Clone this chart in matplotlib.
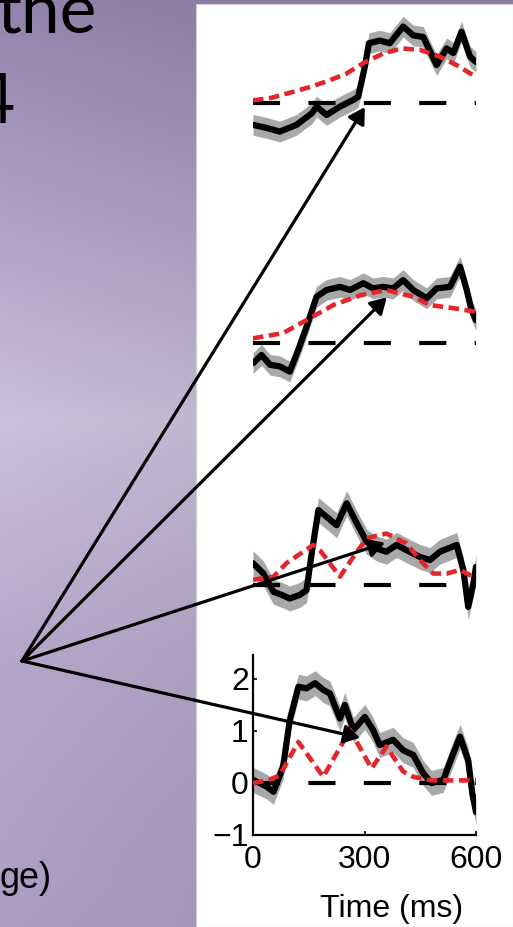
import numpy as np
import matplotlib
matplotlib.use('Agg')
import matplotlib.pyplot as plt
from matplotlib.patches import Rectangle

W, H = 513, 927

# panel 1 (top): neural response and model prediction
p1_t = [0, 37, 72, 117, 158, 171, 198, 234, 270, 283, 301, 312, 341, 368, 404, 431, 458, 494, 521, 539, 561, 584, 600]
p1_resp = [-0.42, -0.48, -0.55, -0.42, -0.2, -0.07, -0.23, -0.07, 0.06, 0.12, 0.7, 1.15, 1.2, 1.15, 1.47, 1.3, 1.27, 0.73, 1.05, 0.96, 1.37, 0.89, 0.79]
p1_model_t = [0, 50, 100, 150, 200, 250, 300, 350, 400, 450, 500, 550, 600]
p1_model = [0.05, 0.1, 0.2, 0.3, 0.42, 0.56, 0.78, 0.95, 1.05, 1.02, 0.9, 0.72, 0.5]

# panel 2
p2_t = [0, 23, 46, 72, 99, 122, 144, 171, 198, 234, 261, 297, 323, 350, 377, 404, 431, 467, 494, 530, 557, 575, 588, 600]
p2_resp = [-0.39, -0.23, -0.42, -0.45, -0.55, -0.13, 0.31, 0.89, 1.02, 1.08, 1.02, 1.15, 1.05, 1.08, 1.05, 1.21, 1.02, 0.86, 1.05, 1.08, 1.47, 1.02, 0.63, 0.44]
p2_model_t = [0, 81, 144, 216, 290, 359, 431, 476, 539, 600]
p2_model = [0.09, 0.19, 0.44, 0.73, 0.92, 1.02, 0.89, 0.73, 0.67, 0.6]

# panel 3
p3_t = [0, 28, 55, 77, 99, 126, 144, 158, 176, 198, 225, 252, 279, 306, 333, 359, 386, 413, 449, 476, 503, 548, 566, 579, 593, 600]
p3_resp = [0.42, 0.22, -0.13, -0.19, -0.26, -0.19, -0.1, 0.61, 1.44, 1.31, 1.15, 1.57, 1.19, 0.83, 0.7, 0.64, 0.77, 0.67, 0.54, 0.48, 0.64, 0.77, 0.29, -0.42, 0.03, 0.35]
p3_model_t = [0, 55, 90, 162, 180, 234, 270, 306, 359, 413, 449, 485, 521, 557, 600]
p3_model = [0.1, 0.16, 0.42, 0.77, 0.67, 0.16, 0.54, 0.9, 0.99, 0.8, 0.48, 0.22, 0.22, 0.29, 0.13]

# panel 4 (bottom, with axes)
p4_t = [0, 37, 55, 81, 99, 122, 144, 167, 189, 207, 234, 247, 270, 301, 323, 341, 377, 404, 431, 458, 480, 512, 539, 557, 579, 590, 600]
p4_resp = [0.06, -0.07, -0.17, 0.31, 1.21, 1.85, 1.82, 1.92, 1.79, 1.72, 1.24, 1.5, 1.02, 1.27, 1.02, 0.73, 0.83, 0.63, 0.54, 0.19, 0.0, 0.06, 0.57, 0.89, 0.44, -0.2, -0.56]
p4_model_t = [0, 40, 72, 122, 189, 261, 319, 359, 404, 431, 480, 540, 600]
p4_model = [0.0, 0.05, 0.15, 0.79, 0.12, 1.02, 0.28, 0.7, 0.22, 0.12, 0.05, 0.05, 0.05]

sem = [0.2, 0.2, 0.24, 0.24]

# points the arrows land on, (time, value) in each panel
arrow_tips = [(301, -0.08), (360, 0.88), (355, 0.81), (288, 0.87)]
arrow_origin = (22, 661)

panels = [
    (p1_t, p1_resp, p1_model_t, p1_model),
    (p2_t, p2_resp, p2_model_t, p2_model),
    (p3_t, p3_resp, p3_model_t, p3_model),
    (p4_t, p4_resp, p4_model_t, p4_model),
]


def px_axes(fig, x0, y_top, x1, y_bot, **kw):
    return fig.add_axes([x0 / W, 1 - y_bot / H, (x1 - x0) / W, (y_bot - y_top) / H], **kw)


fig = plt.figure(figsize=(W / 100, H / 100), dpi=100)

# slide background
ax_bg = fig.add_axes([0, 0, 1, 1])
ys = np.arange(H)
stops_y = [0, 250, 420, 650, 927]
stops_c = np.array([[147, 132, 173], [180, 166, 200], [203, 193, 220],
                    [182, 168, 202], [172, 157, 197]]) / 255.0
col = np.stack([np.interp(ys, stops_y, stops_c[:, i]) for i in range(3)], axis=1)
shade = np.interp(np.arange(W), [0, 196], [1.0, 0.95])
img = np.clip(col[:, None, :] * shade[None, :, None], 0, 1)
ax_bg.imshow(img, extent=(0, W, H, 0), aspect='auto')
ax_bg.add_patch(Rectangle((196, 4), W - 196, H - 4, facecolor='white',
                          edgecolor='#d0d0d0', lw=0.8))
ax_bg.set_xlim(0, W)
ax_bg.set_ylim(H, 0)
ax_bg.axis('off')

ax_bg.text(97, 32, 'the', fontsize=50, family='Lato', ha='right', va='baseline', color='k')
ax_bg.text(14, 123, '4', fontsize=50, family='Lato', ha='right', va='baseline', color='k')
ax_bg.text(52, 888, 'ge)', fontsize=26, family='Liberation Sans', ha='right', va='baseline', color='k')

# panel boxes: x 0..600 ms -> 253..476 px, 52 px per unit
x0, x1 = 253, 476
zeros = [103, 343, 585, 783]
ytops = [1.9, 2.0, 2.0, 2.46]
axes = []
for k, (t, resp, mt, model) in enumerate(panels):
    z = zeros[k]
    ax = px_axes(fig, x0, z - ytops[k] * 52, x1, z + 52)
    ax.set_facecolor('none')
    t = np.array(t)
    resp = np.array(resp)
    ax.fill_between(t, resp - sem[k], resp + sem[k], color='#a8a8a8', lw=0, zorder=1)
    ax.plot([0, 600], [0, 0], color='k', lw=3.0, linestyle=(0, (6.5, 6.8)), zorder=2)
    ax.plot(t, resp, color='k', lw=4.5, solid_joinstyle='round',
            solid_capstyle='round', zorder=3)
    ax.plot(mt, model, color='#e3262b', lw=3.3, linestyle=(0, (2.3, 1.2)), zorder=4)
    ax.set_xlim(0, 600)
    ax.set_ylim(-1, ytops[k])
    if k < 3:
        ax.axis('off')
    axes.append(ax)

ax4 = axes[3]
for s in ['top', 'right']:
    ax4.spines[s].set_visible(False)
for s in ['left', 'bottom']:
    ax4.spines[s].set_linewidth(1.6)
ax4.set_xticks([0, 300, 600])
ax4.set_yticks([-1, 0, 1, 2])
ax4.tick_params(direction='in', length=3, width=1.2, labelsize=23)
ax4.tick_params(axis='y', pad=3)
ax4.tick_params(axis='x', pad=7)
for lab in ax4.get_xticklabels() + ax4.get_yticklabels():
    lab.set_family('Liberation Sans')
ax4.set_xlabel('Time (ms)', fontsize=23, family='Liberation Sans')
ax4.xaxis.set_label_coords(0.62, -0.33)

# arrows on top of everything
ax_top = fig.add_axes([0, 0, 1, 1], zorder=10)
ax_top.set_xlim(0, W)
ax_top.set_ylim(H, 0)
ax_top.axis('off')
ax_top.patch.set_alpha(0)
for ax, tip in zip(axes, arrow_tips):
    ax_top.annotate('', xy=tip, xycoords=ax.transData,
                    xytext=arrow_origin, textcoords=ax_top.transData,
                    annotation_clip=False,
                    arrowprops=dict(arrowstyle='-|>,head_length=0.6,head_width=0.35',
                                    mutation_scale=16, lw=2.3, color='k',
                                    shrinkA=0, shrinkB=0))

fig.savefig('out.png', dpi=100)
